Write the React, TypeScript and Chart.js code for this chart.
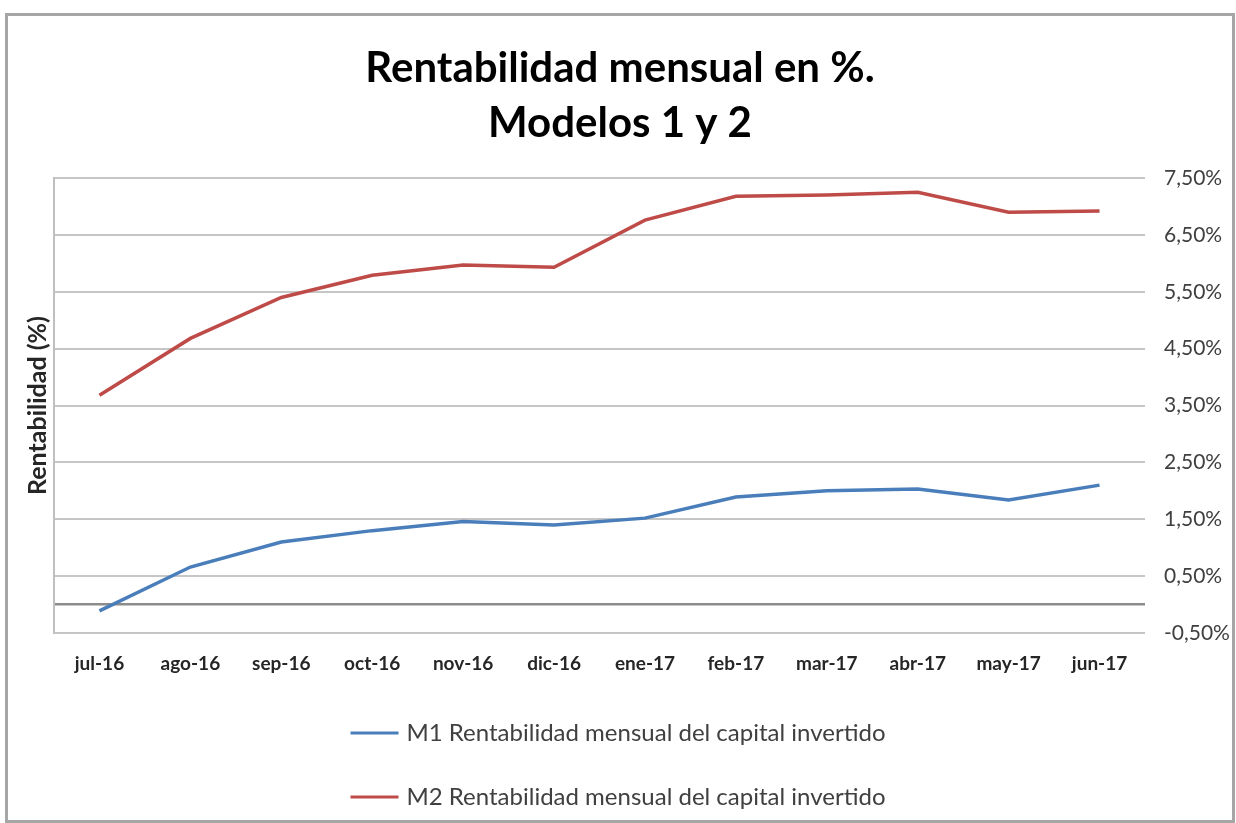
import { useEffect, useRef } from "react";
import { Chart, registerables } from "chart.js";

Chart.register(...registerables);

const categories = ["jul-16", "ago-16", "sep-16", "oct-16", "nov-16", "dic-16", "ene-17", "feb-17", "mar-17", "abr-17", "may-17", "jun-17"];
const m1Values = [-0.11, 0.66, 1.1, 1.3, 1.46, 1.4, 1.52, 1.89, 2.0, 2.03, 1.84, 2.1];
const m2Values = [3.68, 4.68, 5.4, 5.79, 5.97, 5.93, 6.76, 7.18, 7.2, 7.25, 6.9, 6.92];
const seriesLabels = [
  "M1 Rentabilidad mensual del capital invertido",
  "M2 Rentabilidad mensual del capital invertido",
];
const seriesColors = ["#4A7EBB", "#BE4B48"];
const chartTitle = ["Rentabilidad mensual en %.", "Modelos 1 y 2"];
const yAxisTitle = "Rentabilidad (%)";
const yMin = -0.5;
const yMax = 7.5;
const yStep = 0.5;

const FONT = "Lato, 'Open Sans', sans-serif";

const fmt = (v: number) => v.toFixed(2).replace(".", ",") + "%";
const isLabelTick = (v: number) => {
  const r = (((v + 0.5) % 1) + 1) % 1;
  return r < 1e-6 || Math.abs(r - 1) < 1e-6;
};

const framePlugin = {
  id: "frame",
  beforeDraw(chart: any) {
    const { ctx, width, height } = chart;
    ctx.save();
    ctx.fillStyle = "#ffffff";
    ctx.fillRect(0, 0, width, height);
    ctx.strokeStyle = "#a6a6a6";
    ctx.lineWidth = 3;
    ctx.strokeRect(6.5, 14.5, width - 9, height - 16);
    ctx.restore();
  },
};

const legendPlugin = {
  id: "stackedLegend",
  afterDraw(chart: any) {
    const { ctx, width, chartArea } = chart;
    ctx.save();
    ctx.font = `24px ${FONT}`;
    ctx.textBaseline = "middle";
    ctx.textAlign = "left";
    const sample = 48;
    const gap = 8;
    chart.data.datasets.forEach((ds: any, i: number) => {
      const text = ds.label as string;
      const w = sample + gap + ctx.measureText(text).width;
      const x0 = (width - w) / 2;
      const y = chartArea.bottom + 100 + i * 64;
      ctx.strokeStyle = ds.borderColor;
      ctx.lineWidth = 3;
      ctx.beginPath();
      ctx.moveTo(x0, y);
      ctx.lineTo(x0 + sample, y);
      ctx.stroke();
      ctx.fillStyle = "#404040";
      ctx.fillText(text, x0 + sample + gap, y);
    });
    ctx.restore();
  },
};

export default function App() {
  const ref = useRef<HTMLCanvasElement | null>(null);

  useEffect(() => {
    if (!ref.current) return;
    const chart = new Chart(ref.current, {
      type: "line",
      data: {
        labels: categories,
        datasets: [
          {
            label: seriesLabels[0],
            data: m1Values,
            borderColor: seriesColors[0],
            backgroundColor: seriesColors[0],
            borderWidth: 3.5,
            pointRadius: 0,
            tension: 0,
            yAxisID: "y",
          },
          {
            label: seriesLabels[1],
            data: m2Values,
            borderColor: seriesColors[1],
            backgroundColor: seriesColors[1],
            borderWidth: 3.5,
            pointRadius: 0,
            tension: 0,
            yAxisID: "y",
          },
        ],
      },
      options: {
        animation: false,
        responsive: true,
        maintainAspectRatio: false,
        layout: { padding: { left: 8, right: 4, top: 41, bottom: 130 } },
        plugins: {
          legend: { display: false },
          tooltip: { enabled: false },
          title: {
            display: true,
            text: chartTitle,
            color: "#000000",
            font: { family: FONT, size: 42, weight: "bold", lineHeight: 1.31 },
            padding: { top: 0, bottom: 27 },
          },
        },
        scales: {
          x: {
            offset: true,
            grid: { display: false },
            border: { display: false },
            ticks: {
              color: "#262626",
              font: { family: FONT, size: 19, weight: "bold" },
              padding: 11,
              maxRotation: 0,
              autoSkip: false,
            },
            afterFit: (s: any) => {
              s.height = 60;
            },
          },
          y: {
            position: "right",
            min: yMin,
            max: yMax,
            ticks: {
              stepSize: yStep,
              autoSkip: false,
              padding: 19,
              color: "#404040",
              font: { family: FONT, size: 21 },
              callback: (v: any) => (isLabelTick(Number(v)) ? fmt(Number(v)) : ""),
            },
            grid: {
              drawTicks: false,
              color: (c: any) => {
                const v = c.tick ? c.tick.value : NaN;
                if (Math.abs(v) < 1e-9) return "#8c8c8c";
                return isLabelTick(v) ? "#c6c6c6" : "rgba(0,0,0,0)";
              },
              lineWidth: (c: any) => {
                const v = c.tick ? c.tick.value : NaN;
                return Math.abs(v) < 1e-9 ? 2.5 : 2;
              },
            },
            border: { display: false },
            afterFit: (s: any) => {
              s.width = 87;
            },
          },
          yLeft: {
            position: "left",
            min: yMin,
            max: yMax,
            grid: { display: false, drawTicks: false },
            ticks: { display: false },
            border: { display: true, color: "#bfbfbf", width: 2 },
            title: {
              display: true,
              text: yAxisTitle,
              color: "#262626",
              font: { family: FONT, size: 25, weight: "bold" },
              padding: { top: 15, bottom: 0 },
            },
            afterFit: (s: any) => {
              s.width = 46;
            },
          },
        },
      },
      plugins: [framePlugin, legendPlugin],
    });
    return () => chart.destroy();
  }, []);

  return (
    <div style={{ position: "absolute", left: 0, top: 0, width: 1236, height: 823 }}>
      <canvas ref={ref} />
    </div>
  );
}
